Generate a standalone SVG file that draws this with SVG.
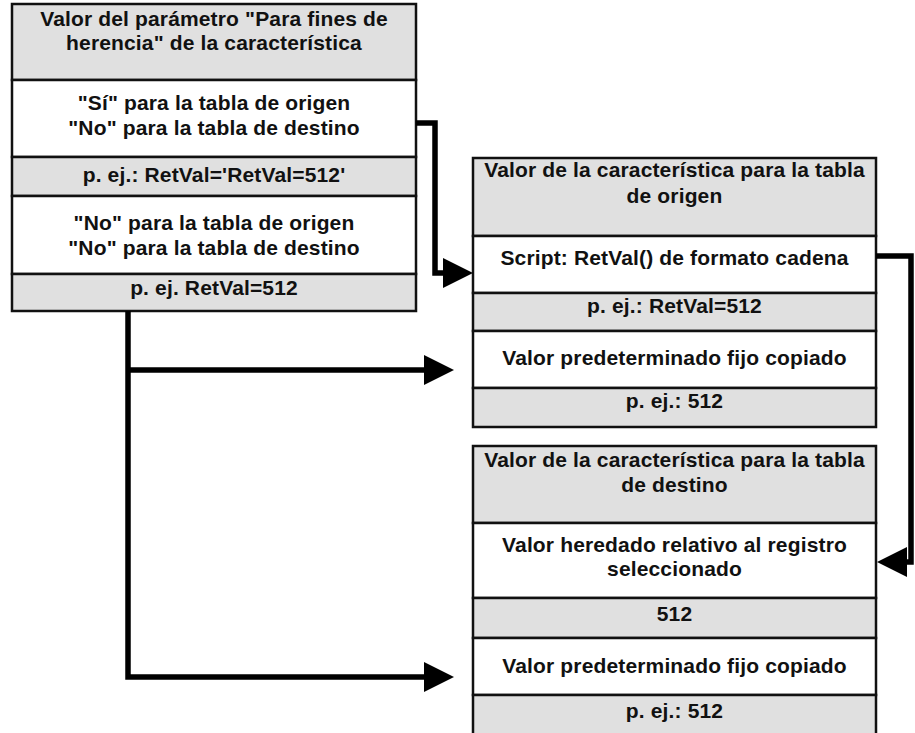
<svg xmlns="http://www.w3.org/2000/svg" width="915" height="733" viewBox="0 0 915 733">
<style>
.g{fill:#e0e0e0;stroke:#111;stroke-width:2.5}
.w{fill:#fff;stroke:#111;stroke-width:2.5}
text{font-family:"Liberation Sans",Arial,sans-serif;font-weight:bold;font-size:21px;letter-spacing:0.15px;fill:#111;text-anchor:middle}
.c{fill:none;stroke:#000;stroke-width:5.5}
</style>
<defs>
<marker id="ah" markerUnits="userSpaceOnUse" markerWidth="31" markerHeight="31" refX="0" refY="15" orient="auto">
<path d="M0,0 L30,15 L0,30 z" fill="#000"/>
</marker>
</defs>
<g id="param">
<rect class="g" x="12" y="4" width="404" height="76"/>
<rect class="w" x="12" y="80" width="404" height="77"/>
<rect class="g" x="12" y="157" width="404" height="39"/>
<rect class="w" x="12" y="196" width="404" height="78"/>
<rect class="g" x="12" y="274" width="404" height="37"/>
<text x="214" y="26">Valor del parámetro "Para fines de</text>
<text x="214" y="50">herencia" de la característica</text>
<text x="214" y="110">"Sí" para la tabla de origen</text>
<text x="214" y="135">"No" para la tabla de destino</text>
<text x="214" y="182">p. ej.: RetVal='RetVal=512'</text>
<text x="214" y="230">"No" para la tabla de origen</text>
<text x="214" y="255">"No" para la tabla de destino</text>
<text x="214" y="295">p. ej. RetVal=512</text>
</g>
<g id="origen">
<rect class="g" x="473" y="158" width="403" height="78"/>
<rect class="w" x="473" y="236" width="403" height="57"/>
<rect class="g" x="473" y="293" width="403" height="38"/>
<rect class="w" x="473" y="331" width="403" height="57"/>
<rect class="g" x="473" y="388" width="403" height="39"/>
<text x="674.5" y="177">Valor de la característica para la tabla</text>
<text x="674.5" y="203">de origen</text>
<text x="674.5" y="265">Script: RetVal() de formato cadena</text>
<text x="674.5" y="313">p. ej.: RetVal=512</text>
<text x="674.5" y="365">Valor predeterminado fijo copiado</text>
<text x="674.5" y="408">p. ej.: 512</text>
</g>
<g id="destino">
<rect class="g" x="473" y="446" width="403" height="77"/>
<rect class="w" x="473" y="523" width="403" height="75"/>
<rect class="g" x="473" y="598" width="403" height="40"/>
<rect class="w" x="473" y="638" width="403" height="57"/>
<rect class="g" x="473" y="695" width="403" height="45"/>
<text x="674.5" y="467">Valor de la característica para la tabla</text>
<text x="674.5" y="492">de destino</text>
<text x="674.5" y="552">Valor heredado relativo al registro</text>
<text x="674.5" y="576">seleccionado</text>
<text x="674.5" y="621">512</text>
<text x="674.5" y="673">Valor predeterminado fijo copiado</text>
<text x="674.5" y="718">p. ej.: 512</text>
</g>
<g id="connectors">
<path class="c" d="M416,123 H435 V273 H443" marker-end="url(#ah)"/>
<path class="c" d="M876,256 H911 V562 H907" marker-end="url(#ah)"/>
<path class="c" d="M128,311 V677 H424" marker-end="url(#ah)"/>
<path class="c" d="M128,370 H424" marker-end="url(#ah)"/>
</g>
</svg>
